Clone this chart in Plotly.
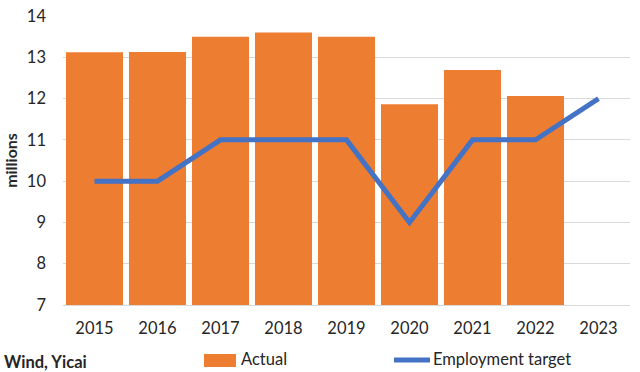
import plotly.graph_objects as go

years = ["2015", "2016", "2017", "2018", "2019", "2020", "2021", "2022", "2023"]
actual = [13.12, 13.13, 13.5, 13.6, 13.5, 11.86, 12.69, 12.06, None]
target = [10, 10, 11, 11, 11, 9, 11, 11, 12]

FONT = "Lato, 'Open Sans', sans-serif"
ORANGE = "#ED7D31"
BLUE = "#4472C4"
TXT = "#262626"

L, R, T, B = 63, 10, 16, 67
PW, PH = 640 - L - R, 372 - T - B


def px(x):
    return (x - L) / PW


def py(y):
    return (372 - B - y) / PH


fig = go.Figure()
fig.add_trace(go.Bar(x=years, y=actual, name="Actual", marker_color=ORANGE,
                     marker_line_width=0, base=0))
fig.add_trace(go.Scatter(x=years, y=target, name="Employment target", mode="lines",
                         line=dict(color=BLUE, width=5)))

fig.update_layout(
    width=640, height=372,
    margin=dict(l=L, r=R, t=T, b=B, autoexpand=False),
    plot_bgcolor="white", paper_bgcolor="white",
    bargap=0.095,
    font=dict(family=FONT, size=16, color=TXT),
    showlegend=False,
    xaxis=dict(showgrid=False, showline=True, linecolor="#d9d9d9", linewidth=1,
               ticks="", tickfont=dict(size=16.5), ticklabelstandoff=8, automargin=False),
    yaxis=dict(range=[7, 14], dtick=1, showgrid=True, gridcolor="#d9d9d9", gridwidth=1,
               zeroline=False, ticks="", tickfont=dict(size=16.5), ticklabelstandoff=16,
               automargin=False,
               title=dict(text="<b>millions</b>", font=dict(size=16), standoff=5)),
    shapes=[
        dict(type="rect", xref="paper", yref="paper", x0=px(204), x1=px(236),
             y0=py(367), y1=py(354), fillcolor=ORANGE, line_width=0),
        dict(type="line", xref="paper", yref="paper", x0=px(394), x1=px(430),
             y0=py(360), y1=py(360), line=dict(color=BLUE, width=5)),
    ],
    annotations=[
        dict(text="<b>Wind, Yicai</b>", xref="paper", yref="paper",
             x=px(2), y=py(362), xanchor="left", yanchor="middle",
             showarrow=False, font=dict(size=16.5, color=TXT)),
        dict(text="Actual", xref="paper", yref="paper",
             x=px(239), y=py(359), xanchor="left", yanchor="middle",
             showarrow=False, font=dict(size=16.5, color=TXT)),
        dict(text="Employment target", xref="paper", yref="paper",
             x=px(431), y=py(359), xanchor="left", yanchor="middle",
             showarrow=False, font=dict(size=16.5, color=TXT)),
    ],
)

fig.write_html(
    "out.html",
    config={"displayModeBar": False},
    post_script="document.body.style.margin='0';document.body.style.padding='0';"
                "document.documentElement.style.overflow='hidden';",
)
